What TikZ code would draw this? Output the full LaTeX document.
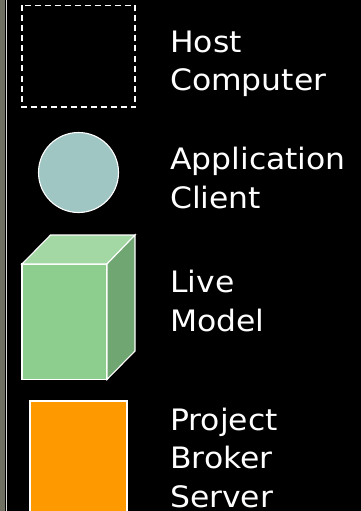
\documentclass[tikz,border=0pt]{standalone}
\usepackage{fontspec}
\setmainfont[FakeStretch=1.065]{DejaVu Sans}
\definecolor{band}{HTML}{6F7062}
\definecolor{edgeline}{HTML}{DDDDD8}
\definecolor{clientfill}{HTML}{A0C6C4}
\definecolor{cubefront}{HTML}{8DCE8F}
\definecolor{cubetop}{HTML}{A3D8A5}
\definecolor{cubeside}{HTML}{70A672}
\definecolor{brokerfill}{HTML}{FF9900}
\tikzset{
  shapeline/.style={draw=white,line width=1.1pt,line join=miter},
  labeltext/.style={text=white,anchor=base west,inner sep=0pt,align=left,font=\fontsize{29.5}{38.5}\selectfont}
}
\begin{document}
\begin{tikzpicture}[x=1pt,y=-1pt]
\useasboundingbox (0,0) rectangle (361,511);
\fill[black] (0,0) rectangle (361,511);
\fill[band] (0,0) rectangle (5,511);
\fill[edgeline] (6,0) rectangle (7.3,511);
% host computer
\draw[shapeline,dash pattern=on 6pt off 4pt] (22,5.5) rectangle (135,107);
% application client
\draw[shapeline,fill=clientfill] (78.5,172.5) circle (40);
% live model
\draw[shapeline,fill=cubefront] (22,264) rectangle (107,379.5);
\draw[shapeline,fill=cubetop] (22,264) -- (50.5,235) -- (135,235) -- (107,264) -- cycle;
\draw[shapeline,fill=cubeside] (107,264) -- (135,235) -- (135,351) -- (107,379.5) -- cycle;
% broker
\draw[shapeline,fill=brokerfill] (30,401) rectangle (127,520);
% labels
\node[labeltext] (host) at (170,90.5) {Host\\Computer};
\node[labeltext] (client) at (170,208) {Application\\Client};
\node[labeltext] (live) at (170,331) {Live\\Model};
\node[labeltext] (broker) at (170,507) {Project\\Broker\\Server};
\end{tikzpicture}
\end{document}
